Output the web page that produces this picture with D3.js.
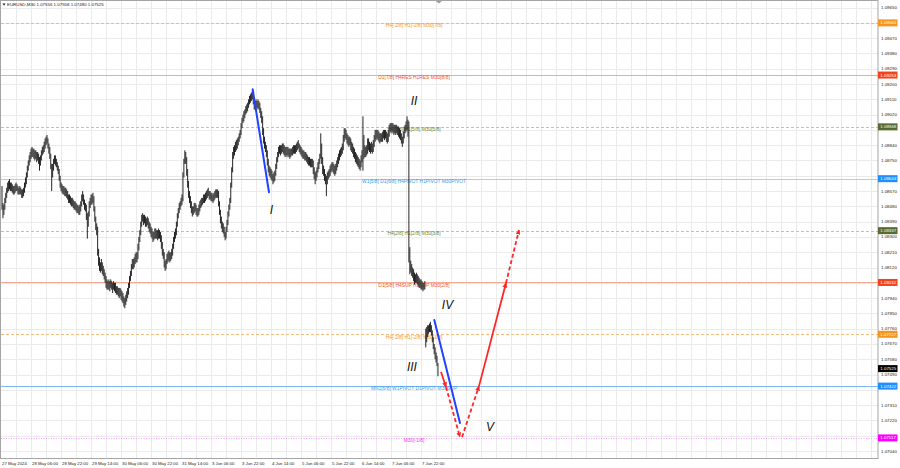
<!DOCTYPE html>
<html><head><meta charset="utf-8">
<script src="https://cdn.jsdelivr.net/npm/d3@7"></script>
<style>
body{margin:0;background:#fff}
svg{display:block}
text{font-family:"Liberation Sans",Arial,sans-serif}
</style>
</head><body>
<svg id="chart" width="900" height="468"></svg>
<script>
// ---------------- DATA ----------------
const symbol = "EURUSD,M30";
const lastBar = [1.07556, 1.07558, 1.07480, 1.07525]; // O H L C of current bar

// M30 bar highs, 27 May 14:00 -> 10 Jun 06:30 (trading bars only)
const highs = [
// 27 May
1.0860,1.0850,1.0849,1.0853,1.0856,1.0859,1.0862,1.0863,1.0864,1.0862,1.0862,1.0861,1.0860,1.0860,1.0861,1.0862,1.0861,1.0860,1.0859,1.0860,
// 28 May
1.0859,1.0858,1.0858,1.0859,1.0862,1.0865,1.0868,1.0872,1.0875,1.0878,1.0880,1.0882,1.0883,1.0882,1.0882,1.0881,1.0881,1.0880,1.0880,1.0879,1.0877,1.0878,1.0881,1.0883,1.0884,1.0886,1.0888,1.0889,1.0890,1.0888,1.0885,1.0883,1.0879,1.0873,1.0873,1.0876,1.0878,1.0878,1.0876,1.0874,1.0872,1.0870,1.0866,1.0862,1.0861,1.0860,1.0860,1.0859,
// 29 May
1.0859,1.0858,1.0857,1.0855,1.0855,1.0854,1.0853,1.0853,1.0852,1.0851,1.0851,1.0850,1.0849,1.0849,1.0848,1.0849,1.0851,1.0855,1.0857,1.0855,1.0852,1.0850,1.0849,1.0844,1.0845,1.0851,1.0853,1.0855,1.0855,1.0856,1.0854,1.0848,1.0842,1.0838,1.0836,1.0823,1.0818,1.0815,1.0817,1.0815,1.0813,1.0811,1.0809,1.0807,1.0805,1.0804,1.0805,1.0804,
// 30 May
1.0805,1.0804,1.0803,1.0804,1.0803,1.0803,1.0801,1.0801,1.0800,1.0800,1.0800,1.0799,1.0798,1.0797,1.0795,1.0794,1.0796,1.0798,1.0800,1.0803,1.0807,1.0810,1.0814,1.0817,1.0817,1.0818,1.0820,1.0821,1.0821,1.0826,1.0830,1.0834,1.0839,1.0843,1.0844,1.0843,1.0843,1.0842,1.0841,1.0842,1.0841,1.0839,1.0838,1.0836,1.0835,1.0833,1.0833,1.0835,
// 31 May
1.0835,1.0834,1.0834,1.0835,1.0834,1.0833,1.0831,1.0827,1.0823,1.0821,1.0816,1.0817,1.0820,1.0821,1.0822,1.0821,1.0821,1.0823,1.0826,1.0830,1.0833,1.0835,1.0839,1.0844,1.0847,1.0850,1.0851,1.0853,1.0855,1.0868,1.0876,1.0881,1.0880,1.0877,1.0870,1.0863,1.0857,1.0854,1.0851,1.0848,1.0848,1.0850,1.0850,1.0849,1.0847,1.0847,1.0849,1.0851,
// 3 Jun
1.0852,1.0853,1.0853,1.0855,1.0855,1.0856,1.0857,1.0858,1.0859,1.0857,1.0857,1.0856,1.0856,1.0855,1.0856,1.0857,1.0858,1.0858,1.0858,1.0857,1.0851,1.0846,1.0842,1.0839,1.0838,1.0836,1.0833,1.0836,1.0840,1.0845,1.0849,1.0853,1.0862,1.0871,1.0880,1.0883,1.0884,1.0886,1.0887,1.0888,1.0889,1.0891,1.0893,1.0897,1.0900,1.0902,1.0904,1.0905,
// 4 Jun
1.0907,1.0908,1.0909,1.0911,1.0913,1.0914,1.0915,1.0916,1.0915,1.0912,1.0910,1.0911,1.0910,1.0911,1.0910,1.0909,1.0906,1.0904,1.0901,1.0894,1.0889,1.0886,1.0884,1.0881,1.0876,1.0872,1.0871,1.0870,1.0869,1.0867,1.0868,1.0869,1.0873,1.0877,1.0880,1.0883,1.0884,1.0884,1.0884,1.0885,1.0885,1.0884,1.0883,1.0883,1.0883,1.0883,1.0882,1.0882,
// 5 Jun
1.0882,1.0882,1.0883,1.0884,1.0884,1.0884,1.0885,1.0886,1.0887,1.0885,1.0884,1.0883,1.0882,1.0881,1.0881,1.0880,1.0880,1.0879,1.0878,1.0877,1.0877,1.0876,1.0876,1.0876,1.0875,1.0871,1.0868,1.0869,1.0871,1.0874,1.0876,1.0879,1.0891,1.0885,1.0877,1.0872,1.0870,1.0867,1.0866,1.0868,1.0869,1.0870,1.0872,1.0873,1.0874,1.0874,1.0873,1.0872,
// 6 Jun
1.0873,1.0875,1.0877,1.0879,1.0881,1.0882,1.0883,1.0885,1.0890,1.0894,1.0894,1.0893,1.0891,1.0890,1.0889,1.0889,1.0888,1.0886,1.0885,1.0883,1.0882,1.0880,1.0879,1.0878,1.0877,1.0876,1.0875,1.0878,1.0881,1.0901,1.0890,1.0884,1.0883,1.0884,1.0888,1.0888,1.0886,1.0885,1.0886,1.0885,1.0887,1.0890,1.0893,1.0893,1.0893,1.0893,1.0892,1.0891,
// 7 Jun
1.0891,1.0891,1.0892,1.0893,1.0893,1.0893,1.0892,1.0891,1.0893,1.0896,1.0897,1.0897,1.0897,1.0897,1.0896,1.0896,1.0896,1.0896,1.0895,1.0895,1.0894,1.0893,1.0891,1.0889,1.0892,1.0895,1.0896,1.0898,1.0901,1.0899,1.0898,1.0824,1.0816,1.0814,1.0812,1.0811,1.0809,1.0808,1.0809,1.0808,1.0807,1.0806,1.0805,1.0805,1.0804,1.0803,1.0803,1.0804,
// 10 Jun
1.0776,1.0777,1.0778,1.0778,1.0779,1.0780,1.0778,1.0775,1.0771,1.0767,1.0765,1.0762,1.0760,1.07558
];

const lows = [
// 27 May
1.0846,1.0841,1.0843,1.0846,1.0850,1.0853,1.0856,1.0857,1.0858,1.0857,1.0857,1.0856,1.0855,1.0855,1.0856,1.0857,1.0857,1.0855,1.0855,1.0855,
// 28 May
1.0855,1.0853,1.0853,1.0854,1.0856,1.0859,1.0861,1.0865,1.0869,1.0872,1.0874,1.0876,1.0877,1.0877,1.0876,1.0875,1.0876,1.0874,1.0875,1.0873,1.0869,1.0872,1.0875,1.0878,1.0879,1.0880,1.0882,1.0884,1.0885,1.0882,1.0879,1.0876,1.0870,1.0857,1.0865,1.0869,1.0873,1.0872,1.0871,1.0869,1.0867,1.0863,1.0859,1.0857,1.0856,1.0855,1.0855,1.0854,
// 29 May
1.0854,1.0853,1.0852,1.0850,1.0850,1.0849,1.0848,1.0848,1.0847,1.0846,1.0846,1.0845,1.0844,1.0844,1.0843,1.0843,1.0845,1.0848,1.0851,1.0849,1.0846,1.0845,1.0840,1.0829,1.0836,1.0842,1.0847,1.0849,1.0849,1.0850,1.0845,1.0839,1.0834,1.0831,1.0819,1.0813,1.0810,1.0809,1.0810,1.0808,1.0807,1.0805,1.0803,1.0800,1.0799,1.0799,1.0799,1.0798,
// 30 May
1.0800,1.0799,1.0797,1.0799,1.0798,1.0797,1.0796,1.0796,1.0795,1.0794,1.0795,1.0793,1.0792,1.0791,1.0789,1.0788,1.0790,1.0792,1.0794,1.0796,1.0800,1.0804,1.0807,1.0811,1.0811,1.0812,1.0814,1.0815,1.0815,1.0817,1.0822,1.0827,1.0831,1.0836,1.0839,1.0837,1.0838,1.0836,1.0836,1.0837,1.0835,1.0833,1.0832,1.0830,1.0829,1.0827,1.0828,1.0829,
// 31 May
1.0829,1.0829,1.0828,1.0829,1.0829,1.0827,1.0823,1.0819,1.0817,1.0812,1.0810,1.0811,1.0814,1.0815,1.0816,1.0815,1.0816,1.0817,1.0819,1.0823,1.0827,1.0829,1.0831,1.0836,1.0841,1.0844,1.0846,1.0848,1.0849,1.0851,1.0865,1.0873,1.0873,1.0866,1.0859,1.0853,1.0850,1.0847,1.0844,1.0842,1.0843,1.0844,1.0845,1.0843,1.0842,1.0842,1.0843,1.0845,
// 3 Jun
1.0847,1.0848,1.0849,1.0850,1.0850,1.0851,1.0852,1.0853,1.0854,1.0852,1.0852,1.0851,1.0851,1.0850,1.0851,1.0852,1.0853,1.0853,1.0853,1.0848,1.0843,1.0838,1.0835,1.0833,1.0832,1.0830,1.0828,1.0829,1.0833,1.0837,1.0842,1.0846,1.0850,1.0859,1.0868,1.0876,1.0878,1.0880,1.0881,1.0882,1.0884,1.0886,1.0888,1.0890,1.0894,1.0897,1.0898,1.0900,
// 4 Jun
1.0902,1.0903,1.0904,1.0906,1.0908,1.0909,1.0910,1.0911,1.0908,1.0905,1.0905,1.0906,1.0905,1.0906,1.0905,1.0903,1.0900,1.0897,1.0890,1.0885,1.0882,1.0880,1.0877,1.0872,1.0868,1.0866,1.0865,1.0864,1.0863,1.0861,1.0862,1.0863,1.0866,1.0870,1.0874,1.0877,1.0879,1.0878,1.0879,1.0880,1.0879,1.0878,1.0877,1.0878,1.0877,1.0878,1.0877,1.0876,
// 5 Jun
1.0877,1.0878,1.0878,1.0879,1.0879,1.0879,1.0880,1.0881,1.0882,1.0880,1.0879,1.0878,1.0877,1.0876,1.0876,1.0875,1.0875,1.0874,1.0873,1.0872,1.0872,1.0871,1.0871,1.0871,1.0867,1.0864,1.0861,1.0863,1.0865,1.0868,1.0870,1.0873,1.0876,1.0873,1.0867,1.0866,1.0863,1.0861,1.0854,1.0861,1.0864,1.0865,1.0866,1.0868,1.0869,1.0868,1.0867,1.0866,
// 6 Jun
1.0867,1.0869,1.0871,1.0873,1.0875,1.0877,1.0878,1.0879,1.0881,1.0886,1.0888,1.0887,1.0885,1.0884,1.0883,1.0884,1.0881,1.0880,1.0879,1.0877,1.0876,1.0874,1.0873,1.0872,1.0871,1.0870,1.0869,1.0871,1.0874,1.0869,1.0876,1.0877,1.0877,1.0878,1.0879,1.0881,1.0880,1.0879,1.0880,1.0879,1.0880,1.0883,1.0886,1.0887,1.0888,1.0887,1.0886,1.0885,
// 7 Jun
1.0886,1.0886,1.0886,1.0888,1.0887,1.0888,1.0886,1.0885,1.0886,1.0889,1.0892,1.0891,1.0892,1.0891,1.0890,1.0891,1.0890,1.0891,1.0890,1.0889,1.0888,1.0887,1.0885,1.0883,1.0885,1.0888,1.0891,1.0892,1.0893,1.0889,1.0815,1.0808,1.0809,1.0807,1.0806,1.0804,1.0802,1.0803,1.0803,1.0802,1.0801,1.0800,1.0800,1.0799,1.0799,1.0798,1.0799,1.0799,
// 10 Jun
1.0765,1.0768,1.0771,1.0773,1.0774,1.0774,1.0772,1.0768,1.0764,1.0761,1.0758,1.0756,1.0754,1.07480
];

// time axis labels and the bar index they sit on
const timeLabels = ["27 May 2024","28 May 06:00","28 May 22:00","29 May 14:00","30 May 06:00","30 May 22:00","31 May 14:00","3 Jun 06:00","3 Jun 22:00","4 Jun 14:00","5 Jun 06:00","5 Jun 22:00","6 Jun 14:00","7 Jun 06:00","7 Jun 22:00"];
const timeLabelBars = [0,32,64,96,128,160,192,224,256,288,320,352,384,416,448];

// price axis tick labels
const priceTicks = [1.09650,1.09560,1.09470,1.09380,1.09290,1.09200,1.09110,1.09020,1.08930,1.08840,1.08750,1.08660,1.08570,1.08480,1.08390,1.08300,1.08210,1.08120,1.08030,1.07940,1.07850,1.07760,1.07670,1.07580,1.07490,1.07400,1.07310,1.07220,1.07130,1.07040];

// Murrey / pivot levels
const levelPrices = [1.09560,1.09253,1.08948,1.08643,1.08337,1.08032,1.07727,1.07422,1.07117];
const levelLabels = ["H4[-2/8] H1[-2/8] M30[7/8]","D1[7/8] H4RES H1RES M30[8/8]","H4[5/8] H1[5/8] M30[5/8]","W1[5/8] D1[6/8] H4PIVOT H1PIVOT M30PIVOT","H4[2/8] H1[2/8] M30[3/8]","D1[5/8] H4SUP H1SUP M30[2/8]","H4[-2/8] H1[-2/8] M30[1/8]","MN1[6/8] W1PIVOT D1PIVOT M30SUP","M30[-1/8]"];
const levelKinds = ["orange","red","olive","blue","olive","red","orange","blue2","magenta"];

// wave annotations (bar index, price)
const waveNames = ["I","II","III","IV","V"];
const waveBars = [287.5,439.5,437.3,475.2,520.5];
const wavePrices = [1.08461,1.09100,1.07537,1.07899,1.07181];

const blueWaves = [
  [[267.4,1.09169],[284.8,1.08563]],
  [[461.1,1.07811],[488.5,1.07205]]
];
// forecast path segments (bar index, price)
const forecast = [
  [[468.3,1.07505],[473.6,1.07417]],
  [[473.6,1.07417],[488.5,1.07122]],
  [[490.7,1.07122],[508.8,1.07422]],
  [[508.8,1.07422],[537.6,1.08029]],
  [[537.6,1.08029],[551.5,1.08341]]
];
const forecastDashed = [false,true,true,false,true];

// ---------------- STYLES ----------------
const levelStyle = {
  orange: {stroke:"#f7b97a", dash:"3,2", text:"#f3952c", box:"#f7941d"},
  red:    {stroke:"#f6a895", dash:null,  text:"#ee5530", box:"#f2431b"},
  olive:  {stroke:"#c6c1a2", dash:"3,2", text:"#6f8a2e", box:"#556b2f"},
  blue:   {stroke:"#a8cff4", dash:null,  text:"#3a98f0", box:"#1e8fff"},
  blue2:  {stroke:"#7dbaf4", dash:null,  text:"#3a98f0", box:"#1e8fff"},
  magenta:{stroke:"#f79ef7", dash:"1,1.5", text:"#ee3cee", box:"#ff00ff"}
};

// ---------------- DRAW ----------------
const W = 900, H = 468;
const plot = {left:1, top:1, right:878, bottom:458.5};
const x = d3.scaleLinear().domain([0, 928]).range([2, 872]);
const y = d3.scaleLinear().domain([1.07040, 1.09650]).range([451.0, 7.6]);
const fmt = d3.format(".5f");
const crisp = v => Math.round(v) + 0.5;

const svg = d3.select("#chart");
svg.append("rect").attr("width", W).attr("height", H).attr("fill", "#fff");

const defs = svg.append("defs");
defs.append("clipPath").attr("id", "clip").append("rect")
  .attr("x", plot.left).attr("y", plot.top)
  .attr("width", plot.right - plot.left).attr("height", plot.bottom - plot.top);
defs.append("marker").attr("id", "arrow").attr("viewBox", "0 0 10 10")
  .attr("refX", 9).attr("refY", 5).attr("markerWidth", 5).attr("markerHeight", 5)
  .attr("markerUnits", "userSpaceOnUse").attr("orient", "auto")
  .append("path").attr("d", "M0,0 L10,5 L0,10 Z").attr("fill", "#ff2626");

const g = svg.append("g").attr("clip-path", "url(#clip)");

// grid
g.append("g").selectAll("line").data(priceTicks).join("line")
  .attr("x1", plot.left).attr("x2", plot.right)
  .attr("y1", d => crisp(y(d))).attr("y2", d => crisp(y(d)))
  .attr("stroke", "#ebebeb").attr("stroke-width", 1);
g.append("g").selectAll("line").data(d3.range(15, 940, 16)).join("line")
  .attr("x1", d => crisp(x(d))).attr("x2", d => crisp(x(d)))
  .attr("y1", plot.top).attr("y2", plot.bottom)
  .attr("stroke", "#ebebeb").attr("stroke-width", 1);

// level lines
const levels = levelPrices.map((p, i) => ({p, label: levelLabels[i], kind: levelKinds[i]}));
g.append("g").selectAll("line").data(levels).join("line")
  .attr("x1", plot.left).attr("x2", plot.right)
  .attr("y1", d => crisp(y(d.p))).attr("y2", d => crisp(y(d.p)))
  .attr("stroke", d => levelStyle[d.kind].stroke)
  .attr("stroke-dasharray", d => levelStyle[d.kind].dash)
  .attr("stroke-width", 1);

// level labels
const labelBar = 439.5;
g.append("g").selectAll("text").data(levels).join("text")
  .attr("x", x(labelBar)).attr("y", d => y(d.p) + 2.8)
  .attr("text-anchor", "middle").attr("dominant-baseline", "central")
  .attr("font-size", 4.9).attr("fill", d => levelStyle[d.kind].text)
  .text(d => d.label);

// bars (high-low lines)
const bars = highs.map((h, i) => ({i, h, l: lows[i]}));
g.append("g").selectAll("line").data(bars).join("line")
  .attr("x1", d => x(d.i)).attr("x2", d => x(d.i))
  .attr("y1", d => y(d.h)).attr("y2", d => Math.max(y(d.l), y(d.h) + 1))
  .attr("stroke", "#262626").attr("stroke-width", 1);

// wave lines
g.append("g").selectAll("line").data(blueWaves).join("line")
  .attr("x1", d => x(d[0][0])).attr("y1", d => y(d[0][1]))
  .attr("x2", d => x(d[1][0])).attr("y2", d => y(d[1][1]))
  .attr("stroke", "#2342ff").attr("stroke-width", 2).attr("stroke-linecap", "round");

g.append("g").selectAll("line").data(forecast).join("line")
  .attr("x1", d => x(d[0][0])).attr("y1", d => y(d[0][1]))
  .attr("x2", d => x(d[1][0])).attr("y2", d => y(d[1][1]))
  .attr("stroke", "#ff2626").attr("stroke-width", 1.8)
  .attr("stroke-dasharray", (d, i) => forecastDashed[i] ? "4,2.5" : null)
  .attr("marker-end", "url(#arrow)");

// wave numerals
g.append("g").selectAll("text").data(waveNames).join("text")
  .attr("x", (d, i) => x(waveBars[i])).attr("y", (d, i) => y(wavePrices[i]))
  .attr("text-anchor", "middle").attr("dominant-baseline", "central")
  .attr("font-size", 12).attr("font-style", "italic").attr("fill", "#111")
  .text(d => d);

// frame
svg.append("rect").attr("x", plot.left - 0.5).attr("y", plot.top - 0.5)
  .attr("width", plot.right - plot.left + 0.5).attr("height", plot.bottom - plot.top + 0.5)
  .attr("fill", "none").attr("stroke", "#a5a5a5").attr("stroke-width", 1);

// title
svg.append("path").attr("d", "M2.5,3.5 L5.5,3.5 L4,5.8 Z").attr("fill", "#222");
svg.append("text").attr("x", 7).attr("y", 4.8).attr("dominant-baseline", "central")
  .attr("font-size", 4.4).attr("fill", "#222")
  .text(symbol + "  " + lastBar.map(fmt).join(" "));

// chart shift marker
svg.append("path").attr("d", `M${x(466) - 3},1 L${x(466) + 3},1 L${x(466)},3.5 Z`).attr("fill", "#9a9a9a");

// price boxes (levels + current price)
const boxes = levels.map(d => ({p: d.p, fill: levelStyle[d.kind].box}));
boxes.push({p: lastBar[3], fill: "#000"});

// price axis: a tick label hidden behind a price box is not drawn
const visibleTicks = priceTicks.filter(t => boxes.every(b => Math.abs(y(t) - y(b.p)) > 4.8));
svg.append("g").selectAll("text").data(visibleTicks).join("text")
  .attr("x", 881).attr("y", d => y(d)).attr("dominant-baseline", "central")
  .attr("font-size", 4.4).attr("fill", "#222").text(fmt);

// time axis
svg.append("g").selectAll("text").data(timeLabels).join("text")
  .attr("x", (d, i) => x(timeLabelBars[i])).attr("y", 463.3).attr("dominant-baseline", "central")
  .attr("font-size", 4.3).attr("fill", "#222").text(d => d);

const bx = svg.append("g");
bx.selectAll("rect").data(boxes).join("rect")
  .attr("x", 878).attr("y", d => y(d.p) - 3.5).attr("width", 19.5).attr("height", 7)
  .attr("fill", d => d.fill);
bx.selectAll("text").data(boxes).join("text")
  .attr("x", 880.3).attr("y", d => y(d.p)).attr("dominant-baseline", "central")
  .attr("font-size", 4.4).attr("fill", "#fff").text(d => fmt(d.p));
</script>
</body></html>
